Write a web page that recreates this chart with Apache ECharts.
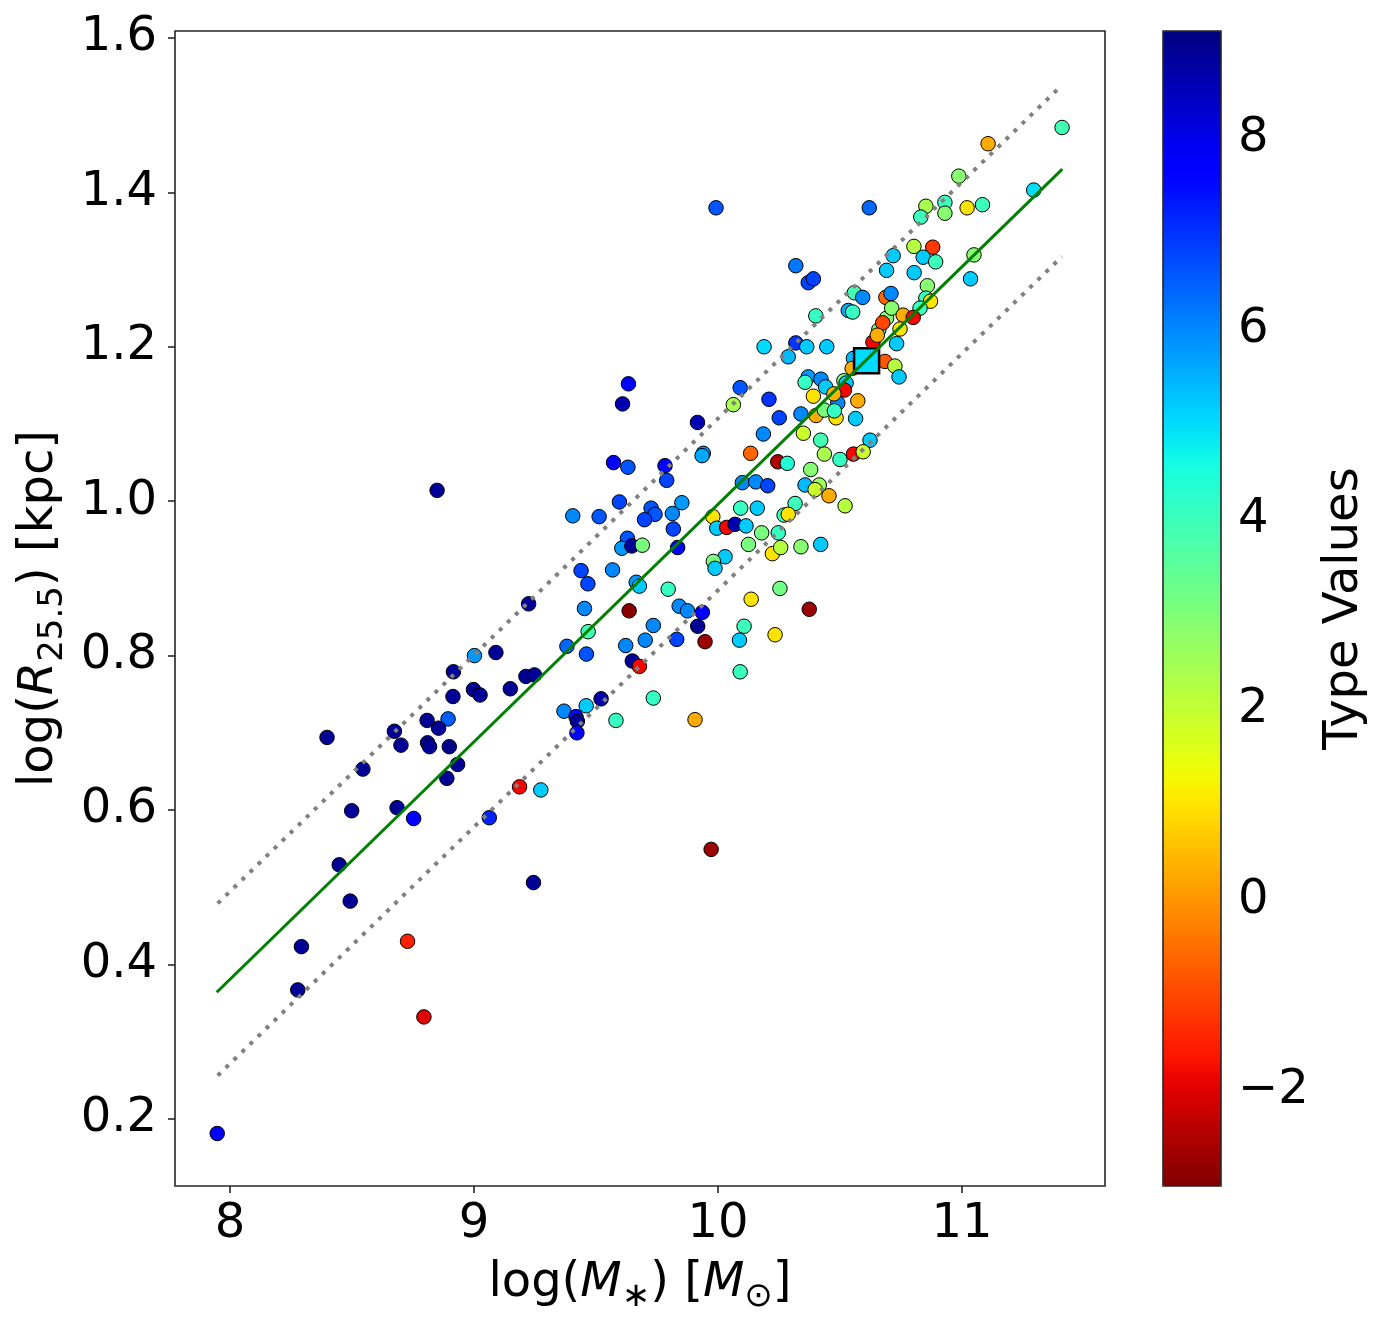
<!DOCTYPE html>
<html>
<head>
<meta charset="utf-8">
<script src="https://cdn.jsdelivr.net/npm/echarts@6/dist/echarts.min.js"></script>
<style>
  html, body { margin: 0; padding: 0; background: #fff; }
  #container { width: 1385px; height: 1328px; }
</style>
</head>
<body>
<div id="container"></div>
<script>
// galaxies: log stellar mass, log R25.5 and morphological type
const logMass = [
  8.916, 8.998, 8.914, 8.894, 8.808, 8.855, 8.674, 8.398, 8.701, 8.810,
  8.818, 8.899, 8.933, 8.889, 8.545, 8.499, 8.685, 8.753, 8.448, 8.493,
  8.293, 8.728, 8.278, 8.795, 7.948,
  9.439, 9.568, 9.467, 9.665, 9.678, 9.796, 9.224, 9.453, 9.636, 9.841,
  9.875, 9.468, 9.735, 9.917, 9.702, 9.831, 9.947, 9.381, 9.461, 9.622,
  9.002, 9.090, 9.649, 9.678, 9.213, 9.248, 9.025, 9.149, 9.735, 9.369,
  9.460, 9.521, 9.418, 9.424, 9.422, 9.582, 9.906, 9.187, 9.274, 9.063,
  9.244,
  10.189, 9.633, 10.091, 10.209, 9.609, 10.063, 9.916, 10.186, 10.134, 9.940,
  9.935, 9.572, 9.631, 9.783, 9.790, 10.100, 10.155, 10.204, 9.596, 9.852,
  9.405, 9.513, 9.726, 9.742, 9.699, 9.813, 10.093, 10.161, 9.979, 9.995,
  10.036, 10.070, 10.115, 10.179, 9.817, 9.629, 9.606, 9.647, 9.690, 9.835,
  10.125, 10.223, 10.029, 9.981, 9.988,
  10.251, 10.402, 10.484, 10.564, 10.350, 10.421, 10.623, 10.436, 10.500, 10.555,
  10.595, 10.245, 10.284, 10.380, 10.357, 10.415, 10.398, 10.455, 10.521, 10.316,
  10.271, 10.288, 10.247, 10.257, 10.340, 10.421, 10.254, 10.136, 10.374, 9.936,
  10.107, 10.088, 10.234, 10.091,
  9.992, 10.620, 10.319, 10.370, 10.391, 10.691, 10.559, 10.593, 10.688, 10.534,
  10.552, 10.401, 10.659, 10.635, 10.691, 10.319, 10.364, 10.446, 10.288, 10.555,
  10.550, 10.684, 10.370, 10.422, 10.357, 10.441, 10.516, 10.525, 10.518, 10.391,
  10.491, 10.573, 10.340, 10.436, 10.477, 10.475,
  10.804, 10.858, 10.709, 10.852, 10.871, 10.712, 10.759, 10.828, 10.800, 10.675,
  10.653, 10.746, 10.732, 10.725, 10.742,
  11.410, 11.107, 10.987, 11.294, 10.852, 10.930, 10.930, 10.831, 11.021, 11.084,
  10.803, 10.880, 10.718, 10.841, 10.892, 11.049, 11.035,
  8.849, 9.972
];
const logR = [
  0.779, 0.756, 0.747, 0.718, 0.716, 0.706, 0.702, 0.694, 0.684, 0.687,
  0.682, 0.682, 0.659, 0.641, 0.653, 0.599, 0.603, 0.589, 0.529, 0.482,
  0.423, 0.430, 0.367, 0.332, 0.181,
  0.910, 0.911, 0.893, 0.895, 0.890, 0.886, 0.867, 0.861, 0.858, 0.864,
  0.858, 0.831, 0.839, 0.838, 0.820, 0.821, 0.818, 0.812, 0.802, 0.813,
  0.800, 0.804, 0.793, 0.786, 0.773, 0.775, 0.749, 0.757, 0.745, 0.728,
  0.735, 0.744, 0.721, 0.715, 0.700, 0.716, 0.717, 0.630, 0.626, 0.590,
  0.506,
  1.200, 1.152, 1.147, 1.132, 1.126, 1.125, 1.102, 1.087, 1.062, 1.062,
  1.059, 1.050, 1.044, 1.046, 1.027, 1.024, 1.025, 1.020, 0.999, 0.998,
  0.981, 0.980, 0.991, 0.983, 0.976, 0.984, 0.991, 0.991, 0.980, 0.965,
  0.966, 0.970, 0.968, 0.959, 0.964, 0.952, 0.939, 0.942, 0.943, 0.940,
  0.944, 0.932, 0.928, 0.922, 0.913,
  1.108, 1.111, 1.108, 1.107, 1.088, 1.079, 1.079, 1.061, 1.054, 1.061,
  1.064, 1.051, 1.049, 1.041, 1.021, 1.021, 1.015, 1.007, 0.994, 0.997,
  0.982, 0.983, 0.959, 0.940, 0.941, 0.944, 0.887, 0.873, 0.860, 0.856,
  0.838, 0.820, 0.827, 0.779,
  1.380, 1.380, 1.305, 1.283, 1.288, 1.299, 1.270, 1.264, 1.264, 1.247,
  1.245, 1.240, 1.222, 1.206, 1.237, 1.205, 1.200, 1.200, 1.187, 1.185,
  1.172, 1.181, 1.161, 1.158, 1.154, 1.148, 1.156, 1.153, 1.144, 1.136,
  1.127, 1.130, 1.113, 1.118, 1.117, 1.139,
  1.296, 1.279, 1.269, 1.263, 1.259, 1.250, 1.241, 1.250, 1.238, 1.231,
  1.215, 1.223, 1.204, 1.175, 1.161,
  1.484, 1.463, 1.421, 1.403, 1.382, 1.387, 1.373, 1.368, 1.380, 1.384,
  1.330, 1.329, 1.318, 1.316, 1.310, 1.319, 1.288,
  1.014, 0.549
];
const typeVal = [
  8.9, 8.9, 8.9, 6.5, 8.9, 8.9, 8.9, 8.9, 8.9, 8.9,
  8.9, 9.0, 8.9, 8.9, 8.9, 8.9, 8.9, 7.7, 8.9, 8.9,
  8.9, -1.5, 8.9, -2.0, 7.7,
  6.8, 6.0, 6.8, 5.8, 5.2, 4.1, 8.9, 6.0, -2.9, 6.0,
  6.0, 3.9, 6.0, 8.9, 6.0, 6.8, -2.7, 6.4, 6.6, 6.0,
  5.8, 8.9, 8.9, -1.8, 8.9, 8.9, 8.9, 8.9, 4.1, 6.0,
  5.2, 8.7, 7.5, 8.9, 7.8, 4.1, 0.3, -1.8, 5.2, 7.2,
  8.9,
  5.0, 7.7, 6.6, 7.0, 8.6, 2.4, 8.6, 6.0, -0.6, 5.8,
  5.6, 7.8, 6.6, 7.8, 6.8, 6.0, 6.0, 6.8, 6.8, 5.8,
  6.0, 6.6, 6.6, 6.6, 6.8, 6.0, 4.1, 5.2, 1.0, 5.2,
  -1.8, 8.6, 5.2, 3.1, 6.8, 6.6, 5.8, 8.9, 3.1, 7.8,
  3.1, 1.0, 5.2, 3.1, 5.2,
  6.8, 0.3, 1.0, 5.2, 1.9, 3.9, 5.2, 2.4, 4.1, -1.8,
  1.9, -2.5, 4.4, 2.9, 5.4, 2.6, 1.9, 0.3, 2.2, 4.0,
  4.0, 1.0, 4.1, 2.2, 2.9, 5.2, 3.2, 1.0, -2.7, 7.7,
  4.0, 5.2, 1.0, 4.0,
  6.6, 6.4, 6.2, 6.8, 6.8, 5.2, 3.9, 6.0, -0.6, 5.6,
  4.1, 4.1, 3.1, -1.8, 2.9, 7.0, 5.2, 5.2, 5.4, 5.4,
  0.3, -0.8, 5.8, 6.0, 4.1, 5.2, 3.1, 5.2, -1.8, 1.0,
  6.0, 0.3, 6.0, 3.1, 4.1, 0.4,
  5.2, 2.9, 6.0, 4.1, 1.0, 2.9, 0.3, 4.0, -1.8, -1.0,
  0.3, 1.0, 5.2, 2.2, 5.2,
  3.9, 0.3, 2.9, 5.0, 2.4, 4.0, 2.9, 4.0, 1.0, 4.0,
  2.2, -1.2, 5.2, 5.2, 4.0, 2.9, 5.2,
  8.9, -2.7
];

// highlighted galaxy (square)
const targetMass = [10.609];
const targetR = [1.182];
const targetType = [5.0];

// mean relation and its scatter band
const fitX = [7.946, 11.411];
const fitY = [0.364, 1.430];
const upperX = [7.95, 11.41];
const upperY = [0.479, 1.539];
const lowerX = [7.95, 11.41];
const lowerY = [0.256, 1.317];

const xTicks = [8, 9, 10, 11];
const yTicks = [0.2, 0.4, 0.6, 0.8, 1.0, 1.2, 1.4, 1.6];
const cbTicks = [-2, 0, 2, 4, 6, 8];
const typeMin = -3.0;
const typeMax = 9.13;

// matplotlib 'jet', used reversed (low type = red)
function jet(s) {
  const clamp = v => Math.max(0, Math.min(1, v));
  let r, g, b;
  if (s < 0.35) r = 0;
  else if (s < 0.66) r = (s - 0.35) / 0.31;
  else if (s < 0.89) r = 1;
  else r = 1 - (s - 0.89) / 0.11 * 0.5;
  if (s < 0.125) g = 0;
  else if (s < 0.375) g = (s - 0.125) / 0.25;
  else if (s < 0.64) g = 1;
  else if (s < 0.91) g = 1 - (s - 0.64) / 0.27;
  else g = 0;
  if (s < 0.11) b = 0.5 + s / 0.11 * 0.5;
  else if (s < 0.34) b = 1;
  else if (s < 0.65) b = 1 - (s - 0.34) / 0.31;
  else b = 0;
  const h = v => Math.round(clamp(v) * 255).toString(16).padStart(2, '0');
  return '#' + h(r) + h(g) + h(b);
}
const jetR = [];
for (let i = 0; i <= 96; i++) jetR.push(jet(1 - i / 96));

const font = 'DejaVu Sans';
const ink = '#000';
const spine = '#262626';
const minus = v => String(v).replace('-', '\u2212');

const points = logMass.map((m, i) => [m, logR[i], typeVal[i]]);
const target = targetMass.map((m, i) => [m, targetR[i], targetType[i]]);

const nameRich = {
  i: { fontStyle: 'italic', fontSize: 48, lineHeight: 60, fontFamily: font, color: ink },
  s: { fontSize: 34, lineHeight: 32, verticalAlign: 'bottom', fontFamily: font, color: ink }
};

var dom = document.getElementById('container');
var myChart = echarts.init(dom, null, { renderer: 'canvas' });

var option = {
  animation: false,
  backgroundColor: '#fff',
  textStyle: { fontFamily: font },
  grid: [
    {
      left: 175, top: 31, width: 930, height: 1155,
      show: true, borderColor: spine, borderWidth: 1.6, backgroundColor: 'transparent'
    },
    {
      left: 1163, top: 31, width: 58, height: 1155,
      show: true, borderColor: spine, borderWidth: 1.6, backgroundColor: 'transparent', z: 10
    }
  ],
  xAxis: [
    {
      type: 'value', gridIndex: 0, min: 7.775, max: 11.586,
      splitLine: { show: false },
      axisLine: { show: false },
      axisTick: { show: true, length: 7, lineStyle: { color: spine, width: 1.6 }, customValues: xTicks },
      axisLabel: { fontSize: 48, fontFamily: font, color: ink, margin: 15, customValues: xTicks },
      name: 'log({i|M}{s|\u2217}) [{i|M}{s|\u2299}]',
      nameLocation: 'middle', nameGap: 68,
      nameTextStyle: { fontSize: 48, lineHeight: 60, fontFamily: font, color: ink, rich: nameRich }
    },
    { type: 'value', gridIndex: 1, min: 0, max: 1, show: false }
  ],
  yAxis: [
    {
      type: 'value', gridIndex: 0, min: 0.113, max: 1.609,
      splitLine: { show: false },
      axisLine: { show: false },
      axisTick: { show: true, length: 7, lineStyle: { color: spine, width: 1.6 }, customValues: yTicks },
      axisLabel: { fontSize: 48, fontFamily: font, color: ink, margin: 18, customValues: yTicks,
        formatter: v => v.toFixed(1) },
      name: 'log({i|R}{s|25.5}) [kpc]',
      nameLocation: 'middle', nameGap: 105, nameRotate: 90,
      nameTextStyle: { fontSize: 48, lineHeight: 60, fontFamily: font, color: ink, rich: nameRich }
    },
    {
      type: 'value', gridIndex: 1, position: 'right', min: typeMin, max: typeMax,
      splitLine: { show: false },
      axisLine: { show: false },
      axisTick: { show: true, length: 7, lineStyle: { color: spine, width: 1.6 }, customValues: cbTicks },
      axisLabel: { fontSize: 48, fontFamily: font, color: ink, margin: 17, customValues: cbTicks,
        formatter: minus },
      name: 'Type Values',
      nameLocation: 'middle', nameGap: 94, nameRotate: 90,
      nameTextStyle: { fontSize: 48, lineHeight: 60, fontFamily: font, color: ink }
    }
  ],
  visualMap: {
    type: 'continuous',
    min: typeMin, max: typeMax,
    dimension: 2,
    seriesIndex: [0, 4],
    left: 1163, top: 31,
    itemWidth: 58, itemHeight: 1155,
    padding: 0,
    calculable: false,
    hoverLink: false,
    realtime: false,
    text: null,
    showLabel: false,
    inRange: { color: jetR }
  },
  series: [
    {
      name: 'galaxies',
      type: 'scatter', xAxisIndex: 0, yAxisIndex: 0,
      symbolSize: 14.5,
      itemStyle: { borderColor: '#000', borderWidth: 1, opacity: 1 },
      data: points
    },
    {
      name: 'fit',
      type: 'line', xAxisIndex: 0, yAxisIndex: 0,
      showSymbol: false, silent: true,
      lineStyle: { color: '#008000', width: 3 },
      data: fitX.map((x, i) => [x, fitY[i]])
    },
    {
      name: 'upper',
      type: 'line', xAxisIndex: 0, yAxisIndex: 0,
      showSymbol: false, silent: true,
      lineStyle: { color: '#808080', width: 4, type: [4, 7.2], cap: 'butt' },
      data: upperX.map((x, i) => [x, upperY[i]])
    },
    {
      name: 'lower',
      type: 'line', xAxisIndex: 0, yAxisIndex: 0,
      showSymbol: false, silent: true,
      lineStyle: { color: '#808080', width: 4, type: [4, 7.2], cap: 'butt' },
      data: lowerX.map((x, i) => [x, lowerY[i]])
    },
    {
      name: 'target',
      type: 'scatter', xAxisIndex: 0, yAxisIndex: 0,
      symbol: 'rect', symbolSize: 25,
      itemStyle: { borderColor: '#000', borderWidth: 2.5, opacity: 1 },
      data: target
    }
  ]
};

myChart.setOption(option);
window.addEventListener('resize', myChart.resize);
</script>
</body>
</html>
